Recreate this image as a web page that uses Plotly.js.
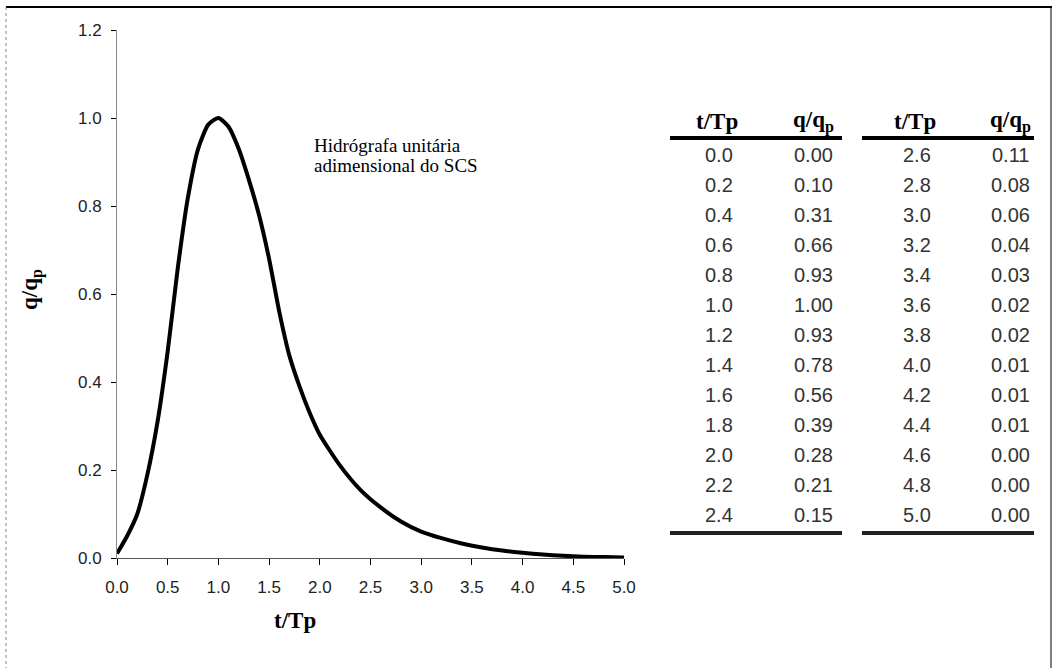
<!DOCTYPE html>
<html>
<head>
<meta charset="utf-8">
<script src="https://cdn.plot.ly/plotly-3.0.1.min.js"></script>
<style>html,body{margin:0;padding:0;background:#fff;}#chart{width:1056px;height:669px;}</style>
</head>
<body>
<div id="chart"></div>
<script>
// Table data
const tTp = [0.0,0.2,0.4,0.6,0.8,1.0,1.2,1.4,1.6,1.8,2.0,2.2,2.4,2.6,2.8,3.0,3.2,3.4,3.6,3.8,4.0,4.2,4.4,4.6,4.8,5.0];
const qqp = [0.00,0.10,0.31,0.66,0.93,1.00,0.93,0.78,0.56,0.39,0.28,0.21,0.15,0.11,0.08,0.06,0.04,0.03,0.02,0.02,0.01,0.01,0.01,0.00,0.00,0.00];
// Curve points
const curveT = [0,0.1,0.2,0.3,0.4,0.5,0.6,0.7,0.8,0.9,1.0,1.1,1.2,1.3,1.4,1.5,1.6,1.7,1.8,1.9,2.0,2.2,2.4,2.6,2.8,3.0,3.2,3.4,3.6,3.8,4.0,4.2,4.4,4.6,4.8,5.0];
const curveQ = [0.01,0.05,0.10,0.19,0.31,0.47,0.66,0.82,0.93,0.985,1.00,0.98,0.93,0.86,0.78,0.68,0.56,0.46,0.39,0.33,0.28,0.21,0.155,0.115,0.083,0.06,0.045,0.033,0.024,0.017,0.012,0.008,0.005,0.003,0.002,0.001];
const xTickVals = [0,0.5,1,1.5,2,2.5,3,3.5,4,4.5,5];
const xTickText = ["0.0","0.5","1.0","1.5","2.0","2.5","3.0","3.5","4.0","4.5","5.0"];
const yTickVals = [0,0.2,0.4,0.6,0.8,1.0,1.2];
const yTickText = ["0.0","0.2","0.4","0.6","0.8","1.0","1.2"];
const headT = "t/Tp";
const headQ = "q/q<sub>p</sub>";
const noteLines = ["Hidrógrafa unitária", "adimensional do SCS"];
const xTitle = "t/Tp";
const yTitle = "q/q<sub>p</sub>";

// pixel helpers for placing things outside the plot area
const L = 117, R = 624, T = 30, B = 558, W = 1056, H = 669;
const px = x => (x - L) / (R - L);
const py = y => (B - y) / (B - T);

const serif = "Liberation Serif, Times New Roman, serif";
const sans = "Liberation Sans, Arial, sans-serif";

const annotations = [];
const shapes = [];

const nRows = Math.ceil(tTp.length / 2);
const blocks = [
  {tx: 719, qx: 813, x0: 670, x1: 842},
  {tx: 917, qx: 1010, x0: 862, x1: 1034}
];
blocks.forEach((b, bi) => {
  annotations.push({xref:'paper', yref:'paper', x:px(b.tx - 2), y:py(122), text:headT, showarrow:false,
    font:{family:serif, size:23, color:'#000', weight:'bold'}, xanchor:'center', yanchor:'middle'});
  annotations.push({xref:'paper', yref:'paper', x:px(b.qx), y:py(121), text:headQ, showarrow:false,
    font:{family:serif, size:23, color:'#000', weight:'bold'}, xanchor:'center', yanchor:'middle'});
  shapes.push({type:'line', xref:'paper', yref:'paper', x0:px(b.x0), x1:px(b.x1), y0:py(138), y1:py(138),
    line:{color:'#000', width:4}});
  shapes.push({type:'line', xref:'paper', yref:'paper', x0:px(b.x0), x1:px(b.x1), y0:py(533), y1:py(533),
    line:{color:'#222', width:4}});
  for (let r = 0; r < nRows; r++) {
    const i = bi * nRows + r;
    if (i >= tTp.length) break;
    const yy = py(155 + r * 30);
    annotations.push({xref:'paper', yref:'paper', x:px(b.tx), y:yy, text:tTp[i].toFixed(1), showarrow:false,
      font:{family:sans, size:20, color:'#333'}, xanchor:'center', yanchor:'middle'});
    annotations.push({xref:'paper', yref:'paper', x:px(b.qx), y:yy, text:qqp[i].toFixed(2), showarrow:false,
      font:{family:sans, size:20, color:'#333'}, xanchor:'center', yanchor:'middle'});
  }
});

// Note text
noteLines.forEach((s, k) => {
  annotations.push({xref:'paper', yref:'paper', x:px(312), y:py(145 + k * 20), text:s, showarrow:false,
    font:{family:serif, size:19, color:'#000'}, xanchor:'left', yanchor:'middle', align:'left'});
});
// Axis titles
annotations.push({xref:'paper', yref:'paper', x:px(295), y:py(620), text:xTitle, showarrow:false,
  font:{family:serif, size:23, color:'#000', weight:'bold'}, xanchor:'center', yanchor:'middle'});
annotations.push({xref:'paper', yref:'paper', x:px(31), y:py(290), text:yTitle, showarrow:false, textangle:-90,
  font:{family:serif, size:23, color:'#000', weight:'bold'}, xanchor:'center', yanchor:'middle'});

// Outer frame
shapes.push({type:'line', xref:'paper', yref:'paper', x0:px(6), x1:px(1052), y0:py(7), y1:py(7), line:{color:'#000', width:2}});
shapes.push({type:'line', xref:'paper', yref:'paper', x0:px(6), x1:px(6), y0:py(7), y1:py(668), line:{color:'#888', width:1, dash:'dot'}});
shapes.push({type:'line', xref:'paper', yref:'paper', x0:px(1051), x1:px(1051), y0:py(7), y1:py(668), line:{color:'#000', width:1}});

const trace = {x: curveT, y: curveQ, type:'scatter', mode:'lines',
  line:{color:'#000', width:4, shape:'spline', smoothing:0.6}, hoverinfo:'skip'};

const layout = {
  width: W, height: H,
  margin: {l: L, r: W - R, t: T, b: H - B, pad: 0},
  paper_bgcolor:'#fff', plot_bgcolor:'#fff',
  showlegend:false,
  xaxis: {range:[0,5], tickvals:xTickVals, ticktext:xTickText, showgrid:false, zeroline:false,
    showline:true, linecolor:'#555', linewidth:1, ticks:'outside', ticklen:6, tickcolor:'#000',
    ticklabelstandoff:8,
    tickfont:{family:sans, size:17, color:'#222'}, fixedrange:true},
  yaxis: {range:[0,1.2], tickvals:yTickVals, ticktext:yTickText, showgrid:false, zeroline:false,
    showline:true, linecolor:'#888', linewidth:1, ticks:'outside', ticklen:5, tickcolor:'#000',
    ticklabelstandoff:6,
    tickfont:{family:sans, size:17, color:'#222'}, fixedrange:true},
  annotations: annotations,
  shapes: shapes
};

Plotly.newPlot('chart', [trace], layout, {displayModeBar:false, staticPlot:true});
</script>
</body>
</html>
